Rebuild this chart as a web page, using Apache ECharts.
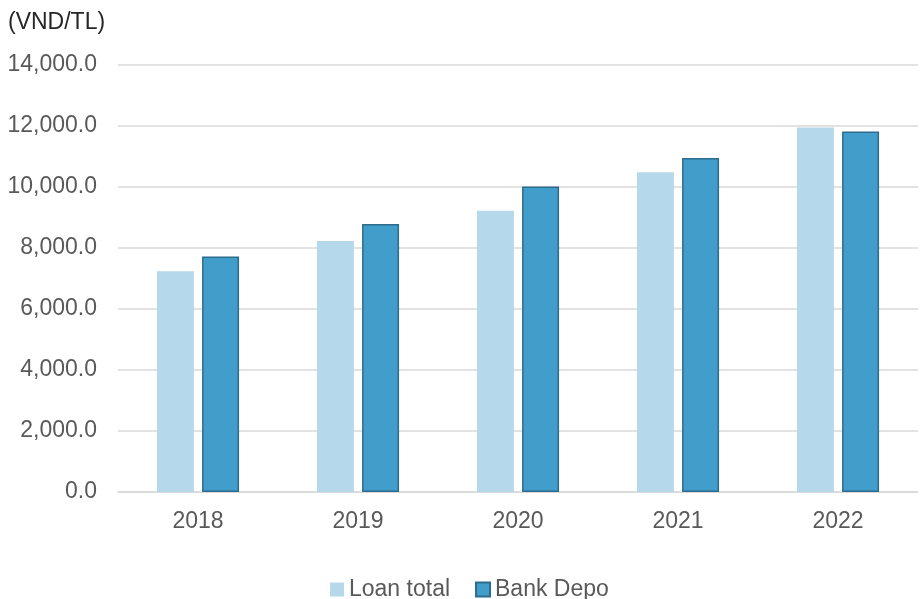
<!DOCTYPE html>
<html>
<head>
<meta charset="utf-8">
<script src="https://cdn.jsdelivr.net/npm/echarts@6/dist/echarts.min.js"></script>
<style>html,body{margin:0;padding:0;background:#fff}#c{width:920px;height:599px}</style>
</head>
<body>
<div id="c"></div>
<script>
const categories = ['2018', '2019', '2020', '2021', '2022'];
const loanTotal = [7240, 8230, 9220, 10480, 11950];
const bankDepo = [7720, 8790, 10020, 10950, 11820];
const seriesNames = ['Loan total', 'Bank Depo'];
const unitLabel = '(VND/TL)';

const font = '"Liberation Sans", Arial, sans-serif';
const chart = echarts.init(document.getElementById('c'), null, {renderer: 'canvas'});
chart.setOption({
  animation: false,
  backgroundColor: '#fff',
  textStyle: {fontFamily: font},
  title: {
    text: unitLabel, left: 3, top: 6,
    textStyle: {fontFamily: font, fontSize: 23, fontWeight: 'normal', color: '#262626'}
  },
  legend: {
    data: seriesNames, left: 325, top: 573, icon: 'rect',
    itemWidth: 14, itemHeight: 14, itemGap: 25,
    textStyle: {fontFamily: font, fontSize: 23, color: '#595959'}
  },
  grid: {left: 118, right: 2, top: 65, bottom: 107, containLabel: false},
  xAxis: {
    type: 'category', data: categories,
    axisLine: {lineStyle: {color: '#d9d9d9', width: 1.5}},
    axisTick: {show: false},
    axisLabel: {fontFamily: font, fontSize: 23, color: '#595959', margin: 18}
  },
  yAxis: {
    type: 'value', min: 0, max: 14000, interval: 2000,
    axisLine: {show: false}, axisTick: {show: false},
    splitLine: {lineStyle: {color: '#d9d9d9', width: 1.5}},
    axisLabel: {
      fontFamily: font, fontSize: 23, color: '#595959', margin: 21,
      formatter: v => v.toLocaleString('en-US', {minimumFractionDigits: 1, maximumFractionDigits: 1})
    }
  },
  series: [
    {name: seriesNames[0], type: 'bar', data: loanTotal, barWidth: 37, barGap: '22%',
     itemStyle: {color: '#b5d9ea'}},
    {name: seriesNames[1], type: 'bar', data: bankDepo, barWidth: 37,
     itemStyle: {color: '#419dc9', borderColor: '#2c6d8e', borderWidth: 1.5}}
  ]
});
</script>
</body>
</html>
